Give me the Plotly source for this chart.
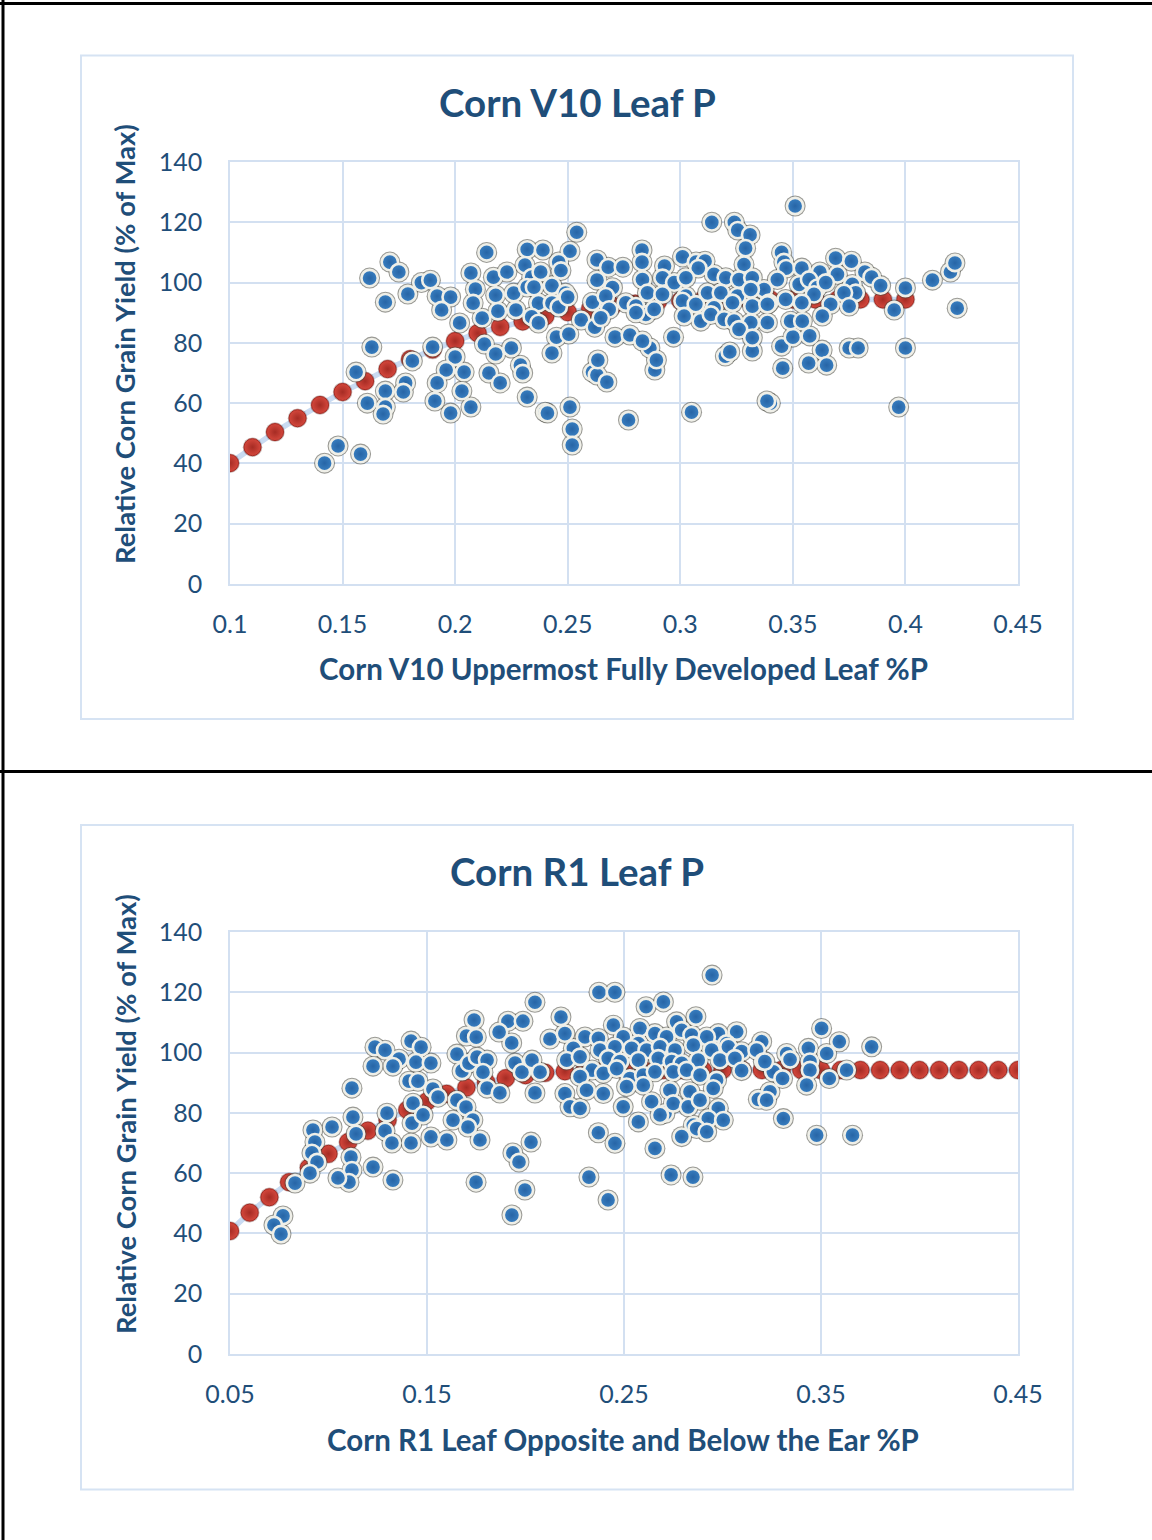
import plotly.graph_objects as go

# ---------------- Data: Corn V10 Leaf P ----------------
v10_x = [0.254, 0.214, 0.232, 0.239, 0.251, 0.171, 0.175, 0.162, 0.169, 0.179, 0.185, 0.189, 0.192, 0.198,
         0.194, 0.207, 0.217, 0.223, 0.231, 0.234, 0.238, 0.246, 0.247, 0.243, 0.249, 0.261, 0.263, 0.263,
         0.209, 0.218, 0.226, 0.232, 0.235, 0.237, 0.243, 0.246, 0.250, 0.208, 0.219, 0.227, 0.234, 0.237,
         0.256, 0.262, 0.212, 0.202, 0.245, 0.2505, 0.243, 0.213, 0.225, 0.218, 0.229, 0.230, 0.215, 0.220,
         0.190, 0.200, 0.181, 0.163, 0.156, 0.196, 0.204, 0.192, 0.203, 0.178, 0.177, 0.169, 0.161, 0.169,
         0.168, 0.191, 0.198, 0.207, 0.232, 0.240, 0.241, 0.251, 0.252, 0.252, 0.148, 0.142, 0.158, 0.261,
         0.263,
         0.351, 0.314, 0.324, 0.3255, 0.331, 0.329, 0.283, 0.283, 0.268, 0.2745, 0.293, 0.301, 0.307, 0.311,
         0.308, 0.345, 0.346, 0.347, 0.369, 0.376, 0.354, 0.362, 0.382, 0.385, 0.389, 0.400, 0.412, 0.420,
         0.422, 0.423, 0.395, 0.400, 0.397, 0.375, 0.379, 0.363, 0.357, 0.365, 0.345, 0.3455, 0.332, 0.320,
         0.322, 0.350, 0.3575, 0.340, 0.3385, 0.305, 0.277, 0.297, 0.2634, 0.2674, 0.2865, 0.2887, 0.271,
         0.2776,
         0.3283, 0.3698,
         0.2699, 0.2832, 0.2921, 0.2973, 0.3025, 0.3150, 0.3202, 0.3261, 0.3320, 0.3372, 0.3431, 0.3528,
         0.3572, 0.3609, 0.3646, 0.3764, 0.3779,
         0.2669, 0.2854, 0.2921, 0.3025, 0.3121, 0.3180, 0.3254, 0.3313, 0.3394, 0.3468, 0.3594, 0.3727,
         0.2684, 0.2758, 0.2803, 0.2847, 0.2884, 0.3010, 0.3069, 0.3150, 0.3232, 0.3320, 0.3387, 0.3540,
         0.3668, 0.3750,
         0.2647, 0.2803, 0.3017, 0.3091, 0.3136, 0.3195, 0.3239, 0.3313, 0.3387, 0.3490, 0.3542, 0.3631,
         0.2832, 0.3261, 0.3320, 0.2894]
v10_y = [116.7, 110.0, 111.0, 110.8, 110.4, 106.8, 103.5, 101.5, 93.5, 96.2, 100.0, 100.8, 95.5, 95.2,
         90.9, 103.2, 101.8, 103.5, 105.8, 101.8, 103.5, 106.8, 104.0, 99.0, 96.5, 93.5, 107.5, 100.8,
         97.8, 95.8, 96.5, 98.5, 98.5, 93.2, 93.2, 91.9, 95.2, 93.2, 90.5, 90.9, 88.6, 86.6,
         87.6, 85.2, 88.2, 86.6, 81.9, 82.9, 76.6, 79.6, 78.3, 76.3, 72.6, 70.0, 70.0, 66.7,
         78.6, 75.3, 74.0, 78.6, 70.3, 71.0, 70.3, 66.7, 64.0, 66.7, 63.7, 64.0, 60.0, 58.7,
         56.4, 60.7, 56.7, 58.7, 62.0, 57.0, 56.7, 58.7, 51.4, 46.1, 45.8, 40.1, 43.1, 70.3,
         69.3,
         125.4, 120.0, 120.0, 117.4, 115.8, 111.4, 110.8, 106.8, 105.1, 105.1, 105.5, 108.5, 106.8, 107.1,
         104.8, 110.0, 106.8, 104.8, 108.1, 107.1, 104.8, 103.5, 103.5, 101.8, 99.0, 98.2, 100.8, 103.5,
         106.5, 91.5, 90.9, 78.3, 58.7, 78.3, 78.3, 77.6, 73.3, 72.6, 78.9, 71.6, 77.3, 75.6,
         77.0, 81.9, 82.3, 60.0, 60.7, 57.0, 54.4, 81.9, 74.3, 67.0, 78.3, 71.0, 81.9,
         82.6,
         106.0, 102.7,
         98.3, 101.0, 101.6, 100.0, 101.6, 102.7, 101.6, 101.0, 101.6, 97.7, 101.0, 99.4,
         101.0, 98.3, 100.0, 99.4, 96.6,
         95.5, 96.6, 96.1, 95.5, 96.6, 96.6, 95.5, 97.7, 93.3, 94.4, 96.1, 96.6,
         91.1, 93.3, 92.2, 89.4, 91.1, 93.9, 92.8, 91.6, 93.3, 92.2, 92.8, 93.3,
         92.8, 92.2,
         88.3, 90.0, 88.9, 87.2, 89.4, 87.8, 87.2, 86.7, 86.7, 87.2, 87.2, 88.9,
         80.6, 84.5, 81.7, 74.3]

v10_fit_x = [0.10, 0.11, 0.12, 0.13, 0.14, 0.15, 0.16, 0.17, 0.18, 0.19, 0.20, 0.21, 0.22, 0.23, 0.24, 0.25,
             0.26, 0.27, 0.28, 0.29, 0.30, 0.31, 0.32, 0.33, 0.34, 0.35, 0.36, 0.37, 0.38, 0.39, 0.40]
v10_fit_y = [40.1, 45.4, 50.4, 55.0, 59.4, 63.7, 67.3, 71.3, 74.6, 77.8, 80.6, 83.2, 85.3, 87.1, 88.8, 90.2,
             91.3, 92.3, 93.0, 93.6, 94.0, 94.3, 94.4, 94.4, 94.4, 94.4, 94.4, 94.4, 94.4, 94.4, 94.4]

v10_xticks = [0.1, 0.15, 0.2, 0.25, 0.3, 0.35, 0.4, 0.45]
v10_xlabels = ["0.1", "0.15", "0.2", "0.25", "0.3", "0.35", "0.4", "0.45"]

# ---------------- Data: Corn R1 Leaf P ----------------
r1_x = [0.2048, 0.1739, 0.1911, 0.1987, 0.218, 0.2373, 0.2454, 0.170, 0.175, 0.1866, 0.193,
        0.1236, 0.1287, 0.1419, 0.147, 0.1226, 0.1358, 0.1327, 0.1444, 0.152, 0.1409, 0.1454, 0.1652,
        0.1678, 0.1713, 0.1754, 0.1805, 0.1784, 0.1805, 0.187, 0.1947, 0.1982, 0.2033, 0.2074, 0.2048,
        0.2124, 0.2338, 0.1119, 0.153, 0.1556,
        0.1429, 0.1424, 0.148, 0.1652, 0.1698, 0.1733, 0.1632, 0.1708, 0.1769, 0.152, 0.1601, 0.1297,
        0.1287, 0.1322, 0.1419, 0.1124, 0.114, 0.1114, 0.1119, 0.1104, 0.1018, 0.0921, 0.0931, 0.0916,
        0.0942, 0.0906, 0.083, 0.1226, 0.1327, 0.1048, 0.0769, 0.0723, 0.0759, 0.1749, 0.1997, 0.1931,
        0.1936, 0.1967, 0.2028, 0.2322,
        0.2612, 0.2700, 0.2865, 0.2446, 0.2581, 0.2767, 0.2793, 0.2979, 0.3072, 0.3503, 0.3593, 0.3757,
        0.2200, 0.2302, 0.2370, 0.2496, 0.2573, 0.2657, 0.2716, 0.2843, 0.2920, 0.3021, 0.3199,
        0.2243, 0.2378, 0.2454, 0.2539, 0.2615, 0.2683, 0.2759, 0.2852, 0.2945, 0.3030, 0.3097, 0.3173,
        0.3326, 0.3436, 0.3529,
        0.2209, 0.2277, 0.2420, 0.2480, 0.2573, 0.2674, 0.2742, 0.2793, 0.2877, 0.2987, 0.3063, 0.3207,
        0.3343, 0.3444,
        0.2277, 0.2395, 0.2463, 0.2530, 0.2598, 0.2657, 0.2750, 0.2818, 0.2886, 0.2970, 0.3097, 0.3258,
        0.3305, 0.3444, 0.3542, 0.3630,
        0.2200, 0.2310, 0.2395, 0.2513, 0.2598, 0.2733, 0.2835, 0.2953, 0.3241, 0.3427,
        0.2226, 0.2277, 0.2496, 0.2640, 0.2708, 0.2750, 0.2826, 0.2886, 0.2979, 0.3182, 0.3224,
        0.2573, 0.2683, 0.2852, 0.2928, 0.3004, 0.3309,
        0.2370, 0.2793, 0.2869, 0.2920, 0.3478, 0.3660,
        0.2454, 0.2657,
        0.3215, 0.2947, 0.2419, 0.2739, 0.2850]
r1_y = [116.7, 110.8, 110.4, 110.4, 111.8, 120.0, 120.0, 105.5, 105.1, 106.8, 103.2,
        101.8, 100.8, 103.8, 101.8, 95.5, 97.8, 95.5, 96.8, 96.5, 90.5, 90.5, 99.5,
        93.9, 96.5, 98.5, 97.5, 93.5, 88.2, 86.6, 96.5, 93.5, 97.5, 93.5, 86.6,
        104.5, 94.2, 88.2, 87.9, 85.2,
        83.2, 76.6, 79.3, 84.2, 81.9, 77.6, 77.6, 75.3, 71.0, 72.0, 71.0, 79.9,
        74.0, 70.0, 70.0, 78.6, 73.0, 65.3, 61.0, 57.0, 75.3, 74.3, 70.3, 66.7,
        63.7, 60.0, 56.7, 62.0, 57.7, 58.4, 45.8, 42.8, 39.8, 57.0, 54.4, 46.1,
        66.7, 63.7, 70.3, 58.7,
        115.2, 116.8, 111.9, 109.1, 108.0, 110.2, 107.4, 106.3, 106.9, 108.0, 103.6, 101.9,
        106.3, 105.2, 104.7, 105.2, 103.0, 106.3, 105.2, 105.8, 105.2, 103.0, 103.6,
        101.4, 100.8, 101.9, 101.4, 100.8, 101.9, 100.8, 102.5, 100.8, 101.9, 100.3, 100.8,
        99.7, 101.4, 99.7,
        97.5, 98.6, 98.1, 97.0, 97.5, 98.1, 97.0, 96.4, 97.5, 97.5, 98.1, 97.0,
        97.7, 97.0,
        92.0, 93.1, 94.7, 91.4, 92.5, 93.6, 93.6, 94.2, 92.5, 90.9, 94.0, 93.6,
        91.4, 94.2, 91.4, 94.2,
        86.4, 87.5, 86.4, 88.7, 89.2, 87.5, 87.0, 88.1, 87.0, 89.2,
        82.0, 81.5, 82.0, 83.7, 79.8, 83.1, 82.0, 84.2, 81.5, 84.5, 84.2,
        77.0, 79.3, 75.9, 78.1, 77.6, 78.1,
        73.4, 72.1, 74.8, 73.7, 72.6, 72.6,
        69.9, 68.2,
        97.0, 125.7, 51.1, 59.4, 58.7]

r1_fit_x = [0.05, 0.06, 0.07, 0.08, 0.09, 0.10, 0.11, 0.12, 0.13, 0.14, 0.15, 0.16, 0.17, 0.18, 0.19, 0.20,
            0.21, 0.22, 0.23, 0.24, 0.25, 0.26, 0.27, 0.28, 0.29, 0.30, 0.31, 0.32, 0.33, 0.34, 0.35, 0.36,
            0.37, 0.38, 0.39, 0.40, 0.41, 0.42, 0.43, 0.44, 0.45]
r1_fit_y = [40.8, 46.9, 52.0, 57.0, 61.8, 66.4, 70.3, 74.1, 77.6, 81.0, 83.8, 86.3, 88.4, 90.2, 91.5, 92.5,
            93.3, 93.8, 94.1, 94.2, 94.2, 94.2, 94.2, 94.2, 94.2, 94.2, 94.2, 94.2, 94.2, 94.2, 94.2, 94.2,
            94.2, 94.2, 94.2, 94.2, 94.2, 94.2, 94.2, 94.2, 94.2]

r1_xticks = [0.05, 0.15, 0.25, 0.35, 0.45]
r1_xlabels = ["0.05", "0.15", "0.25", "0.35", "0.45"]

y_ticks = [0, 20, 40, 60, 80, 100, 120, 140]
y_labels = ["0", "20", "40", "60", "80", "100", "120", "140"]

titles = ["Corn V10 Leaf P", "Corn R1 Leaf P"]
x_titles = ["Corn V10 Uppermost Fully Developed Leaf %P", "Corn R1 Leaf Opposite and Below the Ear %P"]
y_title = "Relative Corn Grain Yield (% of Max)"

# ---------------- Styling ----------------
W, H = 1152, 1540
TXT = "#1F4E79"
GRID = "#D3E0F1"
FONT = "Lato"
FITLINE = "#C9DBF2"


def px(x):
    return x / W


def py(y):
    return 1 - y / H


fig = go.Figure()


def add_series(xs, ys, fx, fy, xa, ya):
    fig.add_trace(go.Scatter(x=fx, y=fy, mode="lines", line=dict(color=FITLINE, width=5.5),
                             xaxis=xa, yaxis=ya, hoverinfo="skip", showlegend=False))
    fig.add_trace(go.Scatter(x=fx, y=fy, mode="markers",
                             marker=dict(size=19.5, color="rgba(90,40,35,0.35)"),
                             xaxis=xa, yaxis=ya, hoverinfo="skip", showlegend=False))
    fig.add_trace(go.Scatter(x=fx, y=fy, mode="markers",
                             marker=dict(size=17, color="#D4473C",
                                         gradient=dict(type="radial", color="#A62C24"),
                                         line=dict(width=1, color="#A52A22")),
                             xaxis=xa, yaxis=ya, showlegend=False))
    fig.add_trace(go.Scatter(x=xs, y=ys, mode="markers",
                             marker=dict(size=21, color="rgba(70,70,60,0.55)"),
                             xaxis=xa, yaxis=ya, hoverinfo="skip", showlegend=False))
    fig.add_trace(go.Scatter(x=xs, y=ys, mode="markers",
                             marker=dict(size=16.3, color="#3A80C2",
                                         gradient=dict(type="radial", color="#2765A6"),
                                         line=dict(width=2.6, color="#EFEFE8")),
                             xaxis=xa, yaxis=ya, showlegend=False))


add_series(v10_x, v10_y, v10_fit_x, v10_fit_y, "x", "y")
add_series(r1_x, r1_y, r1_fit_x, r1_fit_y, "x2", "y2")

axis_common = dict(showgrid=True, gridcolor=GRID, gridwidth=1.5, zeroline=False, automargin=False,
                   showline=True, linecolor=GRID, linewidth=1.5, mirror=True, ticks="",
                   tickfont=dict(family=FONT, size=25, color=TXT))

fig.update_layout(
    template="none",
    width=W, height=H, margin=dict(l=0, r=0, t=0, b=0, pad=0), autosize=False,
    paper_bgcolor="white", plot_bgcolor="white", showlegend=False,
    xaxis=dict(domain=[px(230), px(1018)], range=[0.1, 0.45], tickmode="array",
               tickvals=v10_xticks, ticktext=v10_xlabels, anchor="y", ticklabelstandoff=17, **axis_common),
    yaxis=dict(domain=[py(584), py(162)], range=[0, 140], tickmode="array",
               tickvals=y_ticks, ticktext=y_labels, anchor="x", ticklabelstandoff=21, **axis_common),
    xaxis2=dict(domain=[px(230), px(1018)], range=[0.05, 0.45], tickmode="array",
                tickvals=r1_xticks, ticktext=r1_xlabels, anchor="y2", ticklabelstandoff=17, **axis_common),
    yaxis2=dict(domain=[py(1354), py(932)], range=[0, 140], tickmode="array",
                tickvals=y_ticks, ticktext=y_labels, anchor="x2", ticklabelstandoff=21, **axis_common),
)

shapes = [
    # outer black lines
    dict(type="line", x0=0, x1=1, y0=py(3.5), y1=py(3.5), line=dict(color="black", width=3)),
    dict(type="line", x0=px(3), x1=px(3), y0=0, y1=1, line=dict(color="black", width=3)),
    dict(type="line", x0=0, x1=1, y0=py(771.5), y1=py(771.5), line=dict(color="black", width=3)),
    # chart frames
    dict(type="rect", x0=px(81), x1=px(1073), y0=py(719), y1=py(55.5), line=dict(color="#D6E3F3", width=2)),
    dict(type="rect", x0=px(81), x1=px(1073), y0=py(1489.5), y1=py(825), line=dict(color="#D6E3F3", width=2)),
]
for s in shapes:
    s.update(xref="paper", yref="paper", layer="below")
fig.update_layout(shapes=shapes)

ann = []
for i, (ty, xty, yty) in enumerate([(102, 668, 344), (871, 1439, 1114)]):
    ann.append(dict(text=titles[i], x=px(577), y=py(ty), showarrow=False,
                    font=dict(family=FONT, size=38.5, color=TXT, weight="bold"),
                    xanchor="center", yanchor="middle"))
    ann.append(dict(text=x_titles[i], x=px(623), y=py(xty), showarrow=False,
                    font=dict(family=FONT, size=29.5, color=TXT, weight="bold"),
                    xanchor="center", yanchor="middle"))
    ann.append(dict(text=y_title, x=px(125), y=py(yty), showarrow=False, textangle=-90,
                    font=dict(family=FONT, size=27.4, color=TXT, weight="bold"),
                    xanchor="center", yanchor="middle"))
for a in ann:
    a.update(xref="paper", yref="paper")
fig.update_layout(annotations=ann)

fig.write_html("out.html")
